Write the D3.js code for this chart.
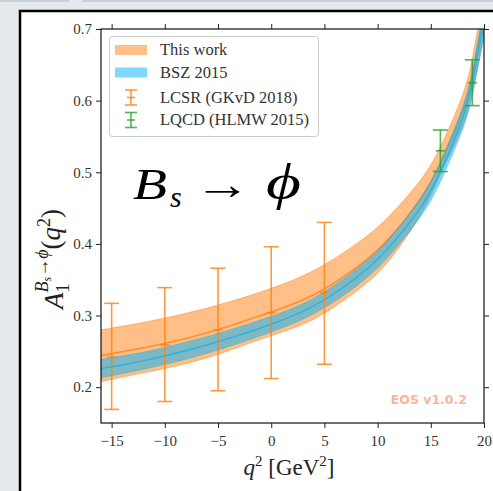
<!DOCTYPE html>
<html>
<head>
<meta charset="utf-8">
<script src="https://cdn.jsdelivr.net/npm/d3@7"></script>
<style>
  html, body { margin: 0; padding: 0; background: #e4e9ed; }
  svg { display: block; }
  .tick text { font-family: "Liberation Serif", serif; font-size: 15px; fill: #333; }
  .tick line { stroke: #222; }
</style>
</head>
<body>
<div id="chart"></div>
<script>
// q^2 grid for the bands //
const bandQ2 = [-16, -12, -8, -4, 0, 4, 8, 11, 14, 16, 18, 19, 20];

// This work //
const thisCentral = [0.244, 0.255, 0.268, 0.285, 0.305, 0.329, 0.367, 0.4065, 0.4625, 0.5155, 0.5855, 0.6415, 0.7215];
const thisUpper   = [0.280, 0.2904, 0.3032, 0.3188, 0.338, 0.363, 0.400, 0.4375, 0.4885, 0.5385, 0.6085, 0.6665, 0.7515];
const thisLower   = [0.208, 0.220, 0.233, 0.251, 0.272, 0.295, 0.334, 0.3755, 0.440, 0.500, 0.565, 0.6165, 0.6915];

// BSZ 2015 //
const bszCentral = [0.226, 0.237, 0.251, 0.268, 0.288, 0.3135, 0.353, 0.394, 0.450, 0.504, 0.576, 0.632, 0.711];
const bszUpper   = [0.239, 0.249, 0.263, 0.2795, 0.299, 0.3245, 0.365, 0.406, 0.463, 0.518, 0.592, 0.650, 0.733];
const bszLower   = [0.213, 0.225, 0.239, 0.2565, 0.277, 0.3025, 0.341, 0.382, 0.437, 0.490, 0.560, 0.614, 0.689];

// LCSR (GKvD 2018) //
const lcsrQ2  = [-15, -10, -5, 0, 5];
const lcsrVal = [0.242, 0.259, 0.280, 0.304, 0.332];
const lcsrLo  = [0.169, 0.180, 0.195, 0.212, 0.232];
const lcsrHi  = [0.317, 0.339, 0.366, 0.396, 0.430];

// LQCD (HLMW 2015) //
const lqcdQ2  = [15.9, 18.9];
const lqcdVal = [0.530, 0.625];
const lqcdLo  = [0.501, 0.593];
const lqcdHi  = [0.559, 0.657];

const xTicks = [-15, -10, -5, 0, 5, 10, 15, 20];
const yTicks = [0.2, 0.3, 0.4, 0.5, 0.6, 0.7];

const W = 493, H = 491;
const margin = {top: 29, right: 9, bottom: 68, left: 101};

const svg = d3.select("#chart")
  .append("svg")
  .attr("width", W)
  .attr("height", H);

// the framed panel //
svg.append("line")
  .attr("x1", 0).attr("x2", 69).attr("y1", 1).attr("y2", 1)
  .attr("stroke", "#c9cfd5").attr("stroke-width", 2);
svg.append("line")
  .attr("x1", 82).attr("x2", W).attr("y1", 1).attr("y2", 1)
  .attr("stroke", "#c9cfd5").attr("stroke-width", 2);
svg.append("rect")
  .attr("x", 20).attr("y", 11)
  .attr("width", 600).attr("height", 600)
  .attr("fill", "#fff")
  .attr("stroke", "#000")
  .attr("stroke-width", 2.5);

const x = d3.scaleLinear()
  .domain([-16, 20])
  .range([margin.left, W - margin.right]);

const y = d3.scaleLinear()
  .domain([0.15, 0.7])
  .range([H - margin.bottom, margin.top]);

svg.append("clipPath")
  .attr("id", "plotClip")
  .append("rect")
  .attr("x", x(-16)).attr("y", y(0.7))
  .attr("width", x(20) - x(-16))
  .attr("height", y(0.15) - y(0.7));

const plot = svg.append("g").attr("clip-path", "url(#plotClip)");

function band(lo, hi) {
  return d3.area()
    .x((d, i) => x(bandQ2[i]))
    .y0((d, i) => y(lo[i]))
    .y1((d, i) => y(hi[i]))
    .curve(d3.curveNatural)(bandQ2);
}
function line(vals) {
  return d3.line()
    .x((d, i) => x(bandQ2[i]))
    .y((d, i) => y(vals[i]))
    .curve(d3.curveNatural)(bandQ2);
}

const orange = "#ff7f0e", blue = "#00b2ff", green = "#2ca02c";

// This work band + central line //
plot.append("path")
  .attr("d", band(thisLower, thisUpper))
  .attr("fill", orange).attr("fill-opacity", 0.5)
  .attr("stroke", orange).attr("stroke-opacity", 0.45).attr("stroke-width", 1);
plot.append("path")
  .attr("d", line(thisCentral))
  .attr("fill", "none")
  .attr("stroke", orange).attr("stroke-opacity", 0.75).attr("stroke-width", 1.6);

// BSZ band + central line //
plot.append("path")
  .attr("d", band(bszLower, bszUpper))
  .attr("fill", blue).attr("fill-opacity", 0.5)
  .attr("stroke", blue).attr("stroke-opacity", 0.35).attr("stroke-width", 1);
plot.append("path")
  .attr("d", line(bszCentral))
  .attr("fill", "none")
  .attr("stroke", "#1cb5e6").attr("stroke-opacity", 0.85).attr("stroke-width", 1.6);

// error bars //
function errorBars(q2, val, lo, hi, color) {
  const g = plot.append("g")
    .attr("stroke", color)
    .attr("stroke-opacity", 0.8)
    .attr("stroke-width", 1.6);
  q2.forEach((q, i) => {
    const cx = x(q);
    g.append("line").attr("x1", cx).attr("x2", cx).attr("y1", y(lo[i])).attr("y2", y(hi[i]));
    g.append("line").attr("x1", cx - 7.5).attr("x2", cx + 7.5).attr("y1", y(lo[i])).attr("y2", y(lo[i]));
    g.append("line").attr("x1", cx - 7.5).attr("x2", cx + 7.5).attr("y1", y(hi[i])).attr("y2", y(hi[i]));
    g.append("line").attr("x1", cx - 4.5).attr("x2", cx + 4.5).attr("y1", y(val[i])).attr("y2", y(val[i]));
  });
}
errorBars(lcsrQ2, lcsrVal, lcsrLo, lcsrHi, orange);
errorBars(lqcdQ2, lqcdVal, lqcdLo, lqcdHi, green);

// axes on all four sides //
const fmtY = d3.format(".1f");
svg.append("g")
  .attr("transform", `translate(0, ${y(0.15)})`)
  .call(d3.axisBottom(x).tickValues(xTicks).tickFormat(d3.format("d")).tickSize(5).tickPadding(7).tickSizeOuter(0))
  .call(g => g.select(".domain").remove());
svg.append("g")
  .attr("transform", `translate(0, ${y(0.7)})`)
  .call(d3.axisTop(x).tickValues(xTicks).tickFormat("").tickSize(5).tickSizeOuter(0))
  .call(g => g.select(".domain").remove());
svg.append("g")
  .attr("transform", `translate(${x(-16)}, 0)`)
  .call(d3.axisLeft(y).tickValues(yTicks).tickFormat(fmtY).tickSize(5).tickPadding(4).tickSizeOuter(0))
  .call(g => g.select(".domain").remove());
svg.append("g")
  .attr("transform", `translate(${x(20)}, 0)`)
  .call(d3.axisRight(y).tickValues(yTicks).tickFormat("").tickSize(5).tickSizeOuter(0))
  .call(g => g.select(".domain").remove());

svg.append("rect")
  .attr("x", x(-16)).attr("y", y(0.7))
  .attr("width", x(20) - x(-16))
  .attr("height", y(0.15) - y(0.7))
  .attr("fill", "none")
  .attr("stroke", "#111")
  .attr("stroke-width", 1.2);

// axis labels //
const serif = "'Liberation Serif', 'DejaVu Serif', serif";

const xl = svg.append("text")
  .attr("x", 289).attr("y", 475)
  .attr("text-anchor", "middle")
  .attr("font-family", serif)
  .attr("font-size", 23)
  .attr("fill", "#222");
xl.append("tspan").attr("font-style", "italic").text("q");
xl.append("tspan").attr("dy", -9).attr("font-size", 15).text("2");
xl.append("tspan").attr("dy", 9).text(" [GeV");
xl.append("tspan").attr("dy", -9).attr("font-size", 15).text("2");
xl.append("tspan").attr("dy", 9).text("]");

const yl = svg.append("text")
  .attr("transform", "translate(63, 259) rotate(-90)")
  .attr("text-anchor", "middle")
  .attr("font-family", serif)
  .attr("font-size", 27)
  .attr("fill", "#222");
yl.append("tspan").attr("font-style", "italic").text("A");
yl.append("tspan").attr("dy", 6).attr("font-size", 18).text("1");
yl.append("tspan").attr("dx", -9).attr("dy", -21).attr("font-size", 18).attr("font-style", "italic").text("B");
yl.append("tspan").attr("dy", 3).attr("font-size", 12).attr("font-style", "italic").text("s");
yl.append("tspan").attr("dy", -3).attr("font-size", 18).text("→");
yl.append("tspan").attr("font-size", 18).attr("font-style", "italic").text("ϕ");
yl.append("tspan").attr("dy", 12).text("(");
yl.append("tspan").attr("font-style", "italic").text("q");
yl.append("tspan").attr("dy", -10).attr("font-size", 18).text("2");
yl.append("tspan").attr("dy", 10).text(")");

// process label //
const proc = svg.append("g")
  .attr("font-family", serif)
  .attr("fill", "#000");
proc.append("text")
  .attr("x", 133).attr("y", 199)
  .attr("font-size", 44)
  .attr("font-style", "italic")
  .attr("textLength", 34)
  .attr("lengthAdjust", "spacingAndGlyphs")
  .text("B");
proc.append("text")
  .attr("x", 170).attr("y", 207)
  .attr("font-size", 30)
  .attr("font-style", "italic")
  .text("s");
proc.append("text")
  .attr("x", 194).attr("y", 199)
  .attr("font-size", 44)
  .attr("textLength", 57)
  .attr("lengthAdjust", "spacingAndGlyphs")
  .text("→");
proc.append("text")
  .attr("x", 266).attr("y", 199)
  .attr("font-size", 50)
  .attr("font-style", "italic")
  .attr("textLength", 35)
  .attr("lengthAdjust", "spacingAndGlyphs")
  .text("ϕ");

// watermark //
svg.append("text")
  .attr("x", 467).attr("y", 404)
  .attr("text-anchor", "end")
  .attr("font-family", "'DejaVu Sans', sans-serif")
  .attr("font-weight", "bold")
  .attr("font-size", 12.5)
  .attr("fill", "#ff7043")
  .attr("fill-opacity", 0.55)
  .text("EOS v1.0.2");

// legend //
const legendItems = ["This work", "BSZ 2015", "LCSR (GKvD 2018)", "LQCD (HLMW 2015)"];
const legend = svg.append("g");
legend.append("rect")
  .attr("x", 109.5).attr("y", 36.5)
  .attr("width", 209).attr("height", 100)
  .attr("rx", 3)
  .attr("fill", "#fff").attr("fill-opacity", 0.8)
  .attr("stroke", "#ccc");
const rowY = [50, 72.5, 97.5, 120];
legendItems.forEach((name, i) => {
  const cy = rowY[i];
  if (i < 2) {
    legend.append("rect")
      .attr("x", 115).attr("y", cy - 5)
      .attr("width", 32).attr("height", 10)
      .attr("fill", i === 0 ? orange : blue).attr("fill-opacity", 0.5);
  } else {
    const c = i === 2 ? orange : green;
    const g = legend.append("g").attr("stroke", c).attr("stroke-opacity", 0.8).attr("stroke-width", 1.6);
    g.append("line").attr("x1", 131).attr("x2", 131).attr("y1", cy - 7.5).attr("y2", cy + 7.5);
    g.append("line").attr("x1", 125).attr("x2", 137).attr("y1", cy - 7.5).attr("y2", cy - 7.5);
    g.append("line").attr("x1", 125).attr("x2", 137).attr("y1", cy + 7.5).attr("y2", cy + 7.5);
    g.append("line").attr("x1", 127).attr("x2", 135).attr("y1", cy).attr("y2", cy);
  }
  legend.append("text")
    .attr("x", 160).attr("y", cy + 5)
    .attr("font-family", serif)
    .attr("font-size", 16.5)
    .attr("fill", "#333")
    .text(name);
});
</script>
</body>
</html>
